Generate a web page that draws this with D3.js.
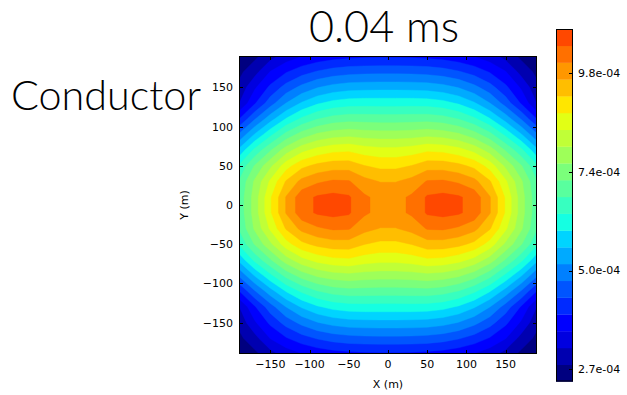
<!DOCTYPE html>
<html><head><meta charset="utf-8">
<script src="https://cdn.jsdelivr.net/npm/d3@7"></script>
<style>
html,body{margin:0;padding:0;background:#fff;}
svg{display:block;}
</style></head><body>
<svg id="chart" width="627" height="395"></svg>
<script>
// ---- data -------------------------------------------------------------
// grid node positions (m)
const xNodes = [-190,-170,-150,-130,-110,-90,-70,-50,-30,-10,10,30,50,70,90,110,130,150,170,190];
const yNodes = [190,170,150,130,110,90,70,50,30,10,-10,-30,-50,-70,-90,-110,-130,-150,-170,-190];
// field values (units of 1e-5), one row per yNode (top to bottom), one column per xNode
const fieldRows = [
 [24.60,27.00,30.40,33.60,35.78,37.16,38.15,38.79,39.14,39.27,39.27,39.14,38.79,38.15,37.16,35.78,33.60,30.40,27.00,24.60],
 [27.00,30.50,36.19,39.62,42.31,44.35,45.74,46.52,46.85,46.97,46.97,46.85,46.52,45.74,44.35,42.31,39.62,36.19,30.50,27.00],
 [29.00,35.38,40.89,45.57,49.15,51.81,53.44,54.30,54.58,54.67,54.67,54.58,54.30,53.44,51.81,49.15,45.57,40.89,35.38,29.00],
 [31.80,39.50,46.20,52.00,56.41,59.43,61.32,62.20,62.35,62.36,62.36,62.35,62.20,61.32,59.43,56.41,52.00,46.20,39.50,31.80],
 [39.80,47.60,54.30,60.20,64.72,67.81,69.61,70.34,70.19,70.06,70.06,70.19,70.34,69.61,67.81,64.72,60.20,54.30,47.60,39.80],
 [48.50,56.30,63.00,69.20,73.72,76.62,78.16,78.77,78.13,77.76,77.76,78.13,78.77,78.16,76.62,73.72,69.20,63.00,56.30,48.50],
 [57.00,65.00,71.60,78.10,82.67,85.39,86.92,87.33,85.99,85.29,85.29,85.99,87.33,86.92,85.39,82.67,78.10,71.60,65.00,57.00],
 [64.50,72.30,79.10,86.20,90.96,93.10,94.22,94.24,92.09,91.03,91.03,92.09,94.24,94.22,93.10,90.96,86.20,79.10,72.30,64.50],
 [68.30,76.60,84.69,92.37,97.18,99.43,100.57,100.34,97.32,95.85,95.85,97.32,100.34,100.57,99.43,97.18,92.37,84.69,76.60,68.30],
 [69.20,77.80,87.46,96.25,102.50,104.50,105.20,104.50,100.65,98.80,98.80,100.65,104.50,105.20,104.50,102.50,96.25,87.46,77.80,69.20],
 [69.20,77.80,87.46,96.25,102.50,104.50,105.20,104.50,100.65,98.80,98.80,100.65,104.50,105.20,104.50,102.50,96.25,87.46,77.80,69.20],
 [68.30,76.60,84.69,92.37,97.18,99.43,100.57,100.34,97.32,95.85,95.85,97.32,100.34,100.57,99.43,97.18,92.37,84.69,76.60,68.30],
 [64.50,72.30,79.10,86.20,90.96,93.10,94.22,94.24,92.09,91.03,91.03,92.09,94.24,94.22,93.10,90.96,86.20,79.10,72.30,64.50],
 [57.00,65.00,71.60,78.10,82.67,85.39,86.92,87.33,85.99,85.29,85.29,85.99,87.33,86.92,85.39,82.67,78.10,71.60,65.00,57.00],
 [48.50,56.30,63.00,69.20,73.72,76.62,78.16,78.77,78.13,77.76,77.76,78.13,78.77,78.16,76.62,73.72,69.20,63.00,56.30,48.50],
 [39.80,47.60,54.30,60.20,64.72,67.81,69.61,70.34,70.19,70.06,70.06,70.19,70.34,69.61,67.81,64.72,60.20,54.30,47.60,39.80],
 [31.80,39.50,46.20,52.00,56.41,59.43,61.32,62.20,62.35,62.36,62.36,62.35,62.20,61.32,59.43,56.41,52.00,46.20,39.50,31.80],
 [29.00,35.38,40.89,45.57,49.15,51.81,53.44,54.30,54.58,54.67,54.67,54.58,54.30,53.44,51.81,49.15,45.57,40.89,35.38,29.00],
 [27.00,30.50,36.19,39.62,42.31,44.35,45.74,46.52,46.85,46.97,46.97,46.85,46.52,45.74,44.35,42.31,39.62,36.19,30.50,27.00],
 [24.60,27.00,30.40,33.60,35.78,37.16,38.15,38.79,39.14,39.27,39.27,39.14,38.79,38.15,37.16,35.78,33.60,30.40,27.00,24.60]
];
// contour levels (units of 1e-5)
const levels = [24,28,32,36,40,44,48,52,56,60,64,68,72,76,80,84,88,92,96,100,104,108];
const colorDomain = [24, 120];
const axisTicks = [-150,-100,-50,0,50,100,150];
const axisDomain = [-190, 190];
const cbarTickValues = [26.9, 50.45, 74.0, 97.55];
const cbarTickLabels = ["2.7e-04","5.0e-04","7.4e-04","9.8e-04"];
const titleText = "0.04 ms";
const sideText = "Conductor";
const xLabelText = "X (m)";
const yLabelText = "Y (m)";

// ---- layout -----------------------------------------------------------
const plot = {left: 239, right: 537, top: 56, bottom: 354};
const cbar = {left: 556, right: 573, top: 29, bottom: 381.5};
const tickFont = "'DejaVu Sans', sans-serif";
const svg = d3.select("#chart");

// jet colormap (matplotlib segment data)
const jetR = d3.scaleLinear().domain([0,0.35,0.66,0.89,1]).range([0,0,1,1,0.5]).clamp(true);
const jetG = d3.scaleLinear().domain([0,0.125,0.375,0.64,0.91,1]).range([0,0,1,1,0,0]).clamp(true);
const jetB = d3.scaleLinear().domain([0,0.11,0.34,0.65,1]).range([0.5,1,1,0,0]).clamp(true);
const jet = t => d3.rgb(Math.round(jetR(t)*255), Math.round(jetG(t)*255), Math.round(jetB(t)*255)).formatHex();
const colorNorm = d3.scaleLinear().domain(colorDomain).range([0,1]);
const bandColor = k => jet(colorNorm(levels[k]));

const xScale = d3.scaleLinear().domain(axisDomain).range([plot.left, plot.right]);
const yScale = d3.scaleLinear().domain(axisDomain).range([plot.bottom, plot.top]);

// ---- filled contours ----------------------------------------------------
const nx = xNodes.length, ny = yNodes.length;
const values = fieldRows.flat();
const bands = d3.contours().size([nx, ny]).thresholds(levels.slice(0, -1))(values);
const dxN = xNodes[1] - xNodes[0], dyN = yNodes[1] - yNodes[0];
const proj = d3.geoTransform({
  point(cx, cy) {
    this.stream.point(xScale(xNodes[0] + (cx - 0.5) * dxN), yScale(yNodes[0] + (cy - 0.5) * dyN));
  }
});
const path = d3.geoPath(proj);

svg.append("defs").append("clipPath").attr("id", "plotclip")
  .append("rect").attr("x", plot.left).attr("y", plot.top)
  .attr("width", plot.right - plot.left).attr("height", plot.bottom - plot.top);

svg.append("g").attr("clip-path", "url(#plotclip)")
  .selectAll("path").data(bands).join("path")
  .attr("d", path)
  .attr("fill", (d, i) => bandColor(i))
  .attr("stroke", (d, i) => bandColor(i))
  .attr("stroke-width", 0.4);

// ---- axes frame and ticks ----------------------------------------------
const gAx = svg.append("g");
gAx.append("rect").attr("x", plot.left + 0.5).attr("y", plot.top + 0.5)
  .attr("width", plot.right - plot.left - 1).attr("height", plot.bottom - plot.top - 1)
  .attr("fill", "none").attr("stroke", "#000").attr("stroke-width", 1);

const tl = 4;
axisTicks.forEach(t => {
  const x = Math.round(xScale(t)) + 0.5, y = Math.round(yScale(t)) + 0.5;
  gAx.append("line").attr("x1", x).attr("x2", x).attr("y1", plot.bottom).attr("y2", plot.bottom - tl).attr("stroke", "#000");
  gAx.append("line").attr("x1", x).attr("x2", x).attr("y1", plot.top).attr("y2", plot.top + tl).attr("stroke", "#000");
  gAx.append("line").attr("y1", y).attr("y2", y).attr("x1", plot.left).attr("x2", plot.left + tl).attr("stroke", "#000");
  gAx.append("line").attr("y1", y).attr("y2", y).attr("x1", plot.right).attr("x2", plot.right - tl).attr("stroke", "#000");
});
const fmt = t => (t < 0 ? "\u2212" + Math.abs(t) : String(t));
gAx.selectAll("text.xt").data(axisTicks).join("text").attr("class", "xt")
  .attr("x", d => xScale(d)).attr("y", plot.bottom + 14)
  .attr("text-anchor", "middle").attr("font-family", tickFont).attr("font-size", 11).attr("fill", "#000")
  .text(fmt);
gAx.selectAll("text.yt").data(axisTicks).join("text").attr("class", "yt")
  .attr("x", plot.left - 6).attr("y", d => yScale(d)).attr("dy", "0.36em")
  .attr("text-anchor", "end").attr("font-family", tickFont).attr("font-size", 11).attr("fill", "#000")
  .text(fmt);
gAx.append("text").attr("x", (plot.left + plot.right) / 2).attr("y", plot.bottom + 34)
  .attr("text-anchor", "middle").attr("font-family", tickFont).attr("font-size", 11).text(xLabelText);
gAx.append("text").attr("transform", `translate(${plot.left - 51},${(plot.top + plot.bottom) / 2}) rotate(-90)`)
  .attr("text-anchor", "middle").attr("font-family", tickFont).attr("font-size", 11).text(yLabelText);

// ---- colorbar ---------------------------------------------------------
const cScale = d3.scaleLinear().domain([levels[0], levels[levels.length - 1]]).range([cbar.bottom, cbar.top]);
const gC = svg.append("g");
gC.selectAll("rect.band").data(d3.range(levels.length - 1)).join("rect").attr("class", "band")
  .attr("x", cbar.left).attr("width", cbar.right - cbar.left)
  .attr("y", k => cScale(levels[k + 1]))
  .attr("height", k => cScale(levels[k]) - cScale(levels[k + 1]) + 0.3)
  .attr("fill", k => bandColor(k));
gC.append("rect").attr("x", cbar.left + 0.5).attr("y", cbar.top + 0.5)
  .attr("width", cbar.right - cbar.left - 1).attr("height", cbar.bottom - cbar.top - 1)
  .attr("fill", "none").attr("stroke", "#000").attr("stroke-width", 1);
cbarTickValues.forEach((v, i) => {
  const y = Math.round(cScale(v)) + 0.5;
  gC.append("line").attr("x1", cbar.right).attr("x2", cbar.right - 4).attr("y1", y).attr("y2", y).attr("stroke", "#000");
  gC.append("text").attr("x", cbar.right + 5).attr("y", cScale(v)).attr("dy", "0.36em")
    .attr("font-family", tickFont).attr("font-size", 11).attr("fill", "#000").text(cbarTickLabels[i]);
});

// ---- titles -----------------------------------------------------------
svg.append("text").attr("x", 384).attr("y", 42).attr("text-anchor", "middle")
  .attr("font-family", "Lato, Roboto, sans-serif").attr("font-weight", 300).attr("font-size", 44)
  .attr("textLength", 150).attr("lengthAdjust", "spacingAndGlyphs").attr("fill", "#000")
  .text(titleText);
svg.append("text").attr("x", 11).attr("y", 110)
  .attr("font-family", "Lato, Roboto, sans-serif").attr("font-weight", 300).attr("font-size", 42)
  .attr("textLength", 190).attr("lengthAdjust", "spacingAndGlyphs").attr("fill", "#000")
  .text(sideText);
</script>
</body></html>
